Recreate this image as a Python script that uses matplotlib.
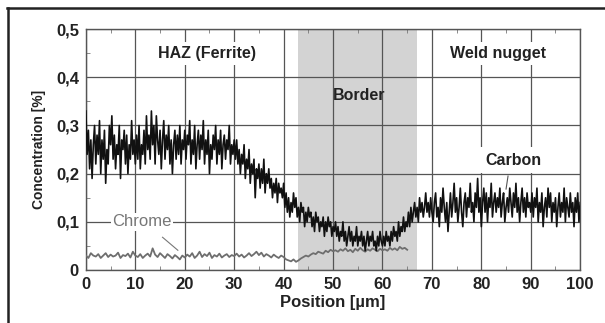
import numpy as np
import matplotlib
matplotlib.use("Agg")
import matplotlib.pyplot as plt
from matplotlib.lines import Line2D
from matplotlib.ticker import MultipleLocator, FuncFormatter

# ---------------- data ----------------
carbon = [
    # 0 - 10
    0.33, 0.24, 0.29, 0.21, 0.27, 0.19, 0.26, 0.30, 0.22, 0.28, 0.24, 0.31, 0.20, 0.27, 0.23, 0.29, 0.18, 0.25, 0.22, 0.30,
    0.26, 0.32, 0.23, 0.28, 0.21, 0.26, 0.24, 0.30, 0.19, 0.27, 0.25, 0.29, 0.22, 0.28, 0.20, 0.26, 0.23, 0.31, 0.24, 0.27, 0.22,
    # 10.25 - 20
    0.28, 0.23, 0.30, 0.21, 0.26, 0.24, 0.29, 0.22, 0.32, 0.25, 0.28, 0.23, 0.33, 0.26, 0.30, 0.22, 0.32, 0.27, 0.24, 0.29,
    0.21, 0.27, 0.31, 0.23, 0.28, 0.25, 0.30, 0.22, 0.27, 0.20, 0.26, 0.29, 0.23, 0.28, 0.24, 0.30, 0.22, 0.27, 0.25, 0.29,
    # 20.25 - 30
    0.23, 0.28, 0.26, 0.31, 0.22, 0.27, 0.24, 0.30, 0.21, 0.26, 0.29, 0.23, 0.28, 0.25, 0.31, 0.22, 0.27, 0.24, 0.29, 0.20,
    0.26, 0.23, 0.28, 0.25, 0.30, 0.22, 0.27, 0.24, 0.29, 0.21, 0.26, 0.28, 0.23, 0.27, 0.25, 0.30, 0.22, 0.26, 0.24, 0.27,
    # 30.25 - 40
    0.23, 0.27, 0.22, 0.25, 0.20, 0.24, 0.22, 0.26, 0.19, 0.23, 0.21, 0.25, 0.18, 0.22, 0.20, 0.23, 0.15, 0.21, 0.19, 0.22,
    0.17, 0.21, 0.18, 0.23, 0.16, 0.20, 0.18, 0.21, 0.17, 0.19, 0.15, 0.18, 0.16, 0.19, 0.14, 0.18, 0.16, 0.17, 0.15, 0.18,
    # 40.25 - 50
    0.13, 0.16, 0.12, 0.15, 0.11, 0.14, 0.12, 0.16, 0.13, 0.15, 0.11, 0.13, 0.10, 0.14, 0.12, 0.13, 0.09, 0.12, 0.10, 0.13,
    0.11, 0.12, 0.09, 0.11, 0.08, 0.12, 0.10, 0.11, 0.08, 0.10, 0.09, 0.11, 0.07, 0.10, 0.08, 0.11, 0.09, 0.10, 0.07, 0.09,
    # 50.25 - 60
    0.08, 0.10, 0.07, 0.09, 0.06, 0.08, 0.07, 0.10, 0.06, 0.08, 0.05, 0.07, 0.09, 0.06, 0.08, 0.05, 0.07, 0.06, 0.09, 0.05,
    0.07, 0.06, 0.08, 0.05, 0.07, 0.04, 0.06, 0.08, 0.05, 0.07, 0.06, 0.08, 0.05, 0.06, 0.04, 0.07, 0.05, 0.08, 0.06, 0.05,
    # 60.25 - 70
    0.07, 0.05, 0.08, 0.06, 0.07, 0.05, 0.08, 0.06, 0.09, 0.07, 0.08, 0.06, 0.10, 0.07, 0.09, 0.08, 0.11, 0.08, 0.10, 0.09,
    0.12, 0.09, 0.13, 0.10, 0.12, 0.14, 0.11, 0.13, 0.10, 0.15, 0.12, 0.14, 0.11, 0.13, 0.16, 0.12, 0.14, 0.11, 0.15, 0.12,
    # 70.25 - 80
    0.10, 0.14, 0.16, 0.11, 0.13, 0.09, 0.15, 0.12, 0.17, 0.13, 0.10, 0.14, 0.08, 0.12, 0.16, 0.11, 0.14, 0.18, 0.12, 0.15,
    0.10, 0.13, 0.17, 0.12, 0.09, 0.14, 0.16, 0.11, 0.15, 0.13, 0.18, 0.12, 0.14, 0.10, 0.16, 0.13, 0.19, 0.12, 0.15, 0.09,
    # 80.25 - 90
    0.14, 0.17, 0.12, 0.16, 0.10, 0.15, 0.13, 0.18, 0.11, 0.14, 0.16, 0.12, 0.15, 0.13, 0.17, 0.11, 0.14, 0.16, 0.10, 0.13,
    0.15, 0.12, 0.17, 0.14, 0.11, 0.16, 0.13, 0.18, 0.12, 0.15, 0.10, 0.14, 0.17, 0.12, 0.15, 0.11, 0.16, 0.13, 0.14, 0.12,
    # 90.25 - 100
    0.16, 0.11, 0.15, 0.13, 0.17, 0.10, 0.14, 0.12, 0.16, 0.09, 0.13, 0.15, 0.11, 0.17, 0.13, 0.16, 0.10, 0.14, 0.12, 0.15,
    0.09, 0.13, 0.16, 0.11, 0.14, 0.12, 0.17, 0.10, 0.15, 0.13, 0.11, 0.16, 0.12, 0.14, 0.09, 0.15, 0.12, 0.16, 0.10, 0.14,
]
carbon_start, carbon_end = 0, 100

chrome = [
    # 0 - 10
    0.030, 0.025, 0.035, 0.030, 0.028, 0.033, 0.025, 0.030, 0.035, 0.027, 0.032, 0.028, 0.030, 0.036, 0.025, 0.031, 0.029, 0.034, 0.026, 0.038, 0.030,
    # 10.5 - 20
    0.027, 0.033, 0.025, 0.030, 0.034, 0.028, 0.045, 0.032, 0.027, 0.035, 0.030, 0.025, 0.033, 0.029, 0.024, 0.031, 0.027, 0.022, 0.030, 0.026,
    # 20.5 - 30
    0.032, 0.028, 0.035, 0.025, 0.030, 0.038, 0.027, 0.033, 0.029, 0.036, 0.025, 0.031, 0.028, 0.034, 0.026, 0.030, 0.033, 0.027, 0.031, 0.029,
    # 30.5 - 40
    0.034, 0.028, 0.032, 0.026, 0.030, 0.035, 0.029, 0.033, 0.038, 0.031, 0.036, 0.028, 0.033, 0.030, 0.026, 0.032, 0.028, 0.025, 0.030, 0.027,
    # 40.5 - 50
    0.022, 0.020, 0.018, 0.022, 0.017, 0.020, 0.024, 0.027, 0.030, 0.028, 0.032, 0.035, 0.033, 0.038, 0.036, 0.034, 0.040, 0.037, 0.042, 0.039,
    # 50.5 - 60
    0.041, 0.038, 0.043, 0.040, 0.045, 0.039, 0.042, 0.037, 0.044, 0.040, 0.046, 0.041, 0.038, 0.043, 0.040, 0.045, 0.042, 0.039, 0.044, 0.041,
    # 60.5 - 65
    0.043, 0.040, 0.046, 0.042, 0.045, 0.041, 0.048, 0.044, 0.046, 0.042,
]
chrome_start, chrome_end = 0, 65

border_zone = (43, 67)
x_ticks = [0, 10, 20, 30, 40, 50, 60, 70, 80, 90, 100]
y_ticks = [0, 0.1, 0.2, 0.3, 0.4, 0.5]

carbon_x = np.linspace(carbon_start, carbon_end, len(carbon))
chrome_x = np.linspace(chrome_start, chrome_end, len(chrome))

# ---------------- figure ----------------
plt.rcParams['font.family'] = ['Liberation Sans', 'DejaVu Sans']
fig = plt.figure(figsize=(6.05, 3.23), dpi=100)
ax = fig.add_axes([0.142, 0.164, 0.817, 0.746])

ax.axvspan(*border_zone, color='#d3d3d3', zorder=0, lw=0)
ax.set_axisbelow(True)
ax.grid(True, which='major', color='#555555', lw=0.9)

ax.plot(chrome_x, chrome, color='#6e6e6e', lw=1.3, zorder=3)
ax.plot(carbon_x, carbon, color='#111111', lw=1.2, zorder=4)

ax.set_xlim(0, 100)
ax.set_ylim(0, 0.5)
ax.set_xticks(x_ticks)
ax.set_yticks(y_ticks)
ax.xaxis.set_minor_locator(MultipleLocator(5))
ax.yaxis.set_minor_locator(MultipleLocator(0.05))
ax.yaxis.set_major_formatter(FuncFormatter(lambda v, p: '0' if abs(v) < 1e-9 else f'{v:.1f}'.replace('.', ',')))
ax.tick_params(which='major', length=0, pad=5, labelsize=12, colors='#222222')
ax.tick_params(which='minor', direction='in', length=3, color='#777777', top=True, right=False)
for lab in ax.get_xticklabels() + ax.get_yticklabels():
    lab.set_fontweight('bold')
for s in ax.spines.values():
    s.set_color('#555555')
    s.set_linewidth(1.0)

ax.set_xlabel('Position [µm]', fontsize=12, fontweight='bold', labelpad=2, color='#222222')
ax.set_ylabel('Concentration [%]', fontsize=10, fontweight='bold', labelpad=7, color='#222222')

txt_kw = dict(fontsize=11.5, fontweight='bold', ha='center', va='center', color='#222222', zorder=6)
ax.text(24.5, 0.449, 'HAZ (Ferrite)', bbox=dict(fc='white', ec='none', pad=3), **txt_kw)
ax.text(55.2, 0.363, 'Border', **txt_kw)
ax.text(83.3, 0.449, 'Weld nugget', bbox=dict(fc='white', ec='none', pad=3), **txt_kw)
ax.text(86.5, 0.228, 'Carbon', bbox=dict(fc='white', ec='none', pad=4), **txt_kw)
ax.plot([85.4, 85.0], [0.195, 0.168], color='#555555', lw=0.8, zorder=6)
ax.text(11.4, 0.1, 'Chrome', fontsize=12, ha='center', va='center', color='#777777', zorder=6,
        bbox=dict(fc='white', ec='none', pad=1.0))
ax.plot([15.5, 18.6], [0.068, 0.041], color='#777777', lw=0.8, zorder=6)

# document frame lines
fig.add_artist(Line2D([0.012, 1.0], [0.975, 0.975], color='#222222', lw=1.8))
fig.add_artist(Line2D([0.013, 0.013], [0.0, 0.975], color='#222222', lw=1.8))

fig.savefig('out.png', dpi=100)
